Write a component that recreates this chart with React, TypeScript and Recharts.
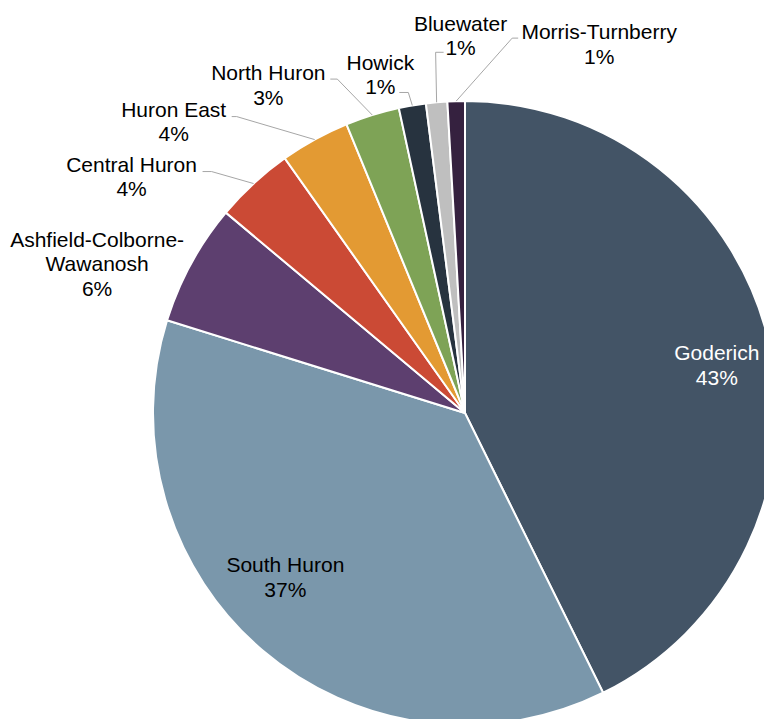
import React from "react";
import { PieChart, Pie, Cell } from "recharts";

const municipalities = [
  "Goderich",
  "South Huron",
  "Ashfield-Colborne-Wawanosh",
  "Central Huron",
  "Huron East",
  "North Huron",
  "Howick",
  "Bluewater",
  "Morris-Turnberry",
];
const shares = [42.7, 37.1, 6.3, 4.1, 3.6, 2.8, 1.4, 1.1, 0.9];

const colors = [
  "#435466",
  "#7A97AB",
  "#5D3F6F",
  "#CB4A35",
  "#E39A33",
  "#7EA356",
  "#27333F",
  "#BFBFBF",
  "#35213F",
];

// label text lines (split where the original wraps)
const labelLines = [
  ["Goderich"],
  ["South Huron"],
  ["Ashfield-Colborne-", "Wawanosh"],
  ["Central Huron"],
  ["Huron East"],
  ["North Huron"],
  ["Howick"],
  ["Bluewater"],
  ["Morris-Turnberry"],
];

// label centre offset from the slice's outer-edge midpoint
const labelOffset: [number, number][] = [
  [-52, 23],
  [23, -73],
  [-94, 0],
  [-122, -7],
  [-141, -18],
  [-104, -30],
  [-32, -31],
  [24, -67],
  [143, -57],
];

// leader line: start relative to label centre, then a horizontal elbow, then to the slice edge
const leaders: ([number, number, number] | null)[] = [
  null,
  null,
  null,
  [71, -5, 9],
  [58, -5, 5],
  [62, -6, 7],
  [19, 18, 9],
  [-17, 17, -8],
  [-81, -6, -6],
];

const data = municipalities.map((name, i) => ({ name, value: shares[i] }));
const RAD = Math.PI / 180;
const LINE_H = 24.5;

const renderLabel = (props: any) => {
  const { cx, cy, midAngle, outerRadius, index, percent } = props;
  const ex = cx + outerRadius * Math.cos(-midAngle * RAD);
  const ey = cy + outerRadius * Math.sin(-midAngle * RAD);
  const [ox, oy] = labelOffset[index];
  const lx = ex + ox;
  const ly = ey + oy;
  const lines = [...labelLines[index], `${Math.round(percent * 100)}%`];
  const top = ly - ((lines.length - 1) * LINE_H) / 2;
  const fill = index === 0 ? "#ffffff" : "#000000";
  const ld = leaders[index];
  return (
    <g key={`lbl-${index}`}>
      {ld && (
        <polyline
          points={`${lx + ld[0]},${ly + ld[1]} ${lx + ld[0] + ld[2]},${ly + ld[1]} ${ex},${ey}`}
          fill="none"
          stroke="#A6A6A6"
          strokeWidth={1}
        />
      )}
      <text
        x={lx}
        textAnchor="middle"
        fill={fill}
        fontFamily="'Liberation Sans', Arial, sans-serif"
        fontSize={21}
      >
        {lines.map((t, j) => (
          <tspan key={j} x={lx} y={top + j * LINE_H} dominantBaseline="central">
            {t}
          </tspan>
        ))}
      </text>
    </g>
  );
};

export default function App() {
  return (
    <div style={{ position: "absolute", left: 0, top: 0, width: 764, height: 719, background: "#fff" }}>
      <PieChart width={764} height={719} margin={{ top: 0, right: 0, bottom: 0, left: 0 }}>
        <Pie
          data={data}
          dataKey="value"
          nameKey="name"
          cx={465}
          cy={413}
          outerRadius={312}
          startAngle={90}
          endAngle={-270}
          stroke="#ffffff"
          strokeWidth={2}
          label={renderLabel}
          labelLine={false}
          isAnimationActive={false}
        >
          {data.map((d, i) => (
            <Cell key={d.name} fill={colors[i]} />
          ))}
        </Pie>
      </PieChart>
    </div>
  );
}
